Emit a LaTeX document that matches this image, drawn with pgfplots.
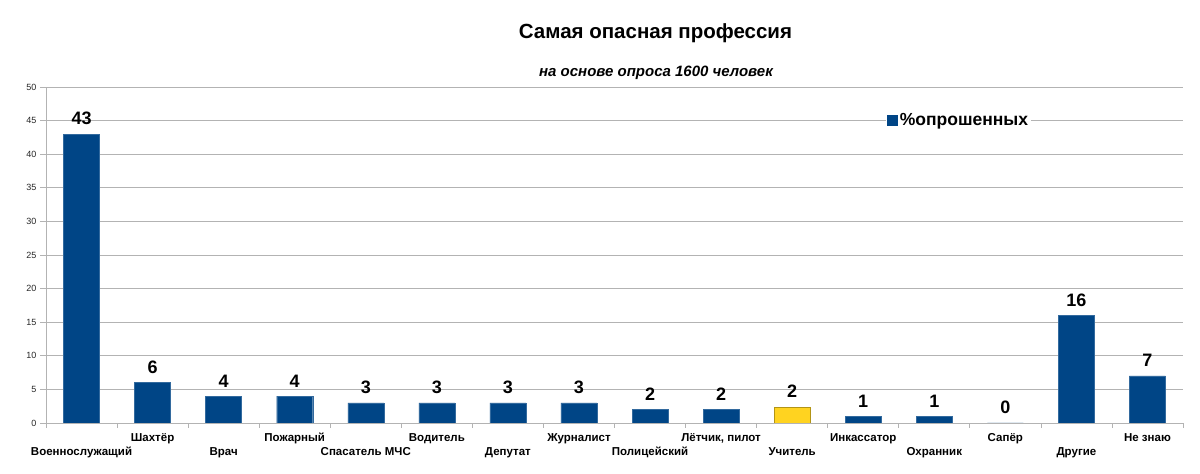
\documentclass[border=0pt]{standalone}
\usepackage{pgfplots}
\pgfplotsset{compat=1.18}
\usepackage{pgfplotstable}
\usepackage{fontspec}
\setmainfont{Liberation Sans}
\definecolor{loblue}{HTML}{004586}
\definecolor{loyellow}{HTML}{FFD320}
\definecolor{gridgray}{HTML}{B3B3B3}

\pgfplotstableread{
x y
0 43
1 6
2 4
3 4
4 3
5 3
6 3
7 3
8 2
9 2
11 1
12 1
13 0
14 16
15 7
}\blueseries
\pgfplotstableread{
x y
10 2.4
}\yellowseries

\begin{document}
\begin{tikzpicture}[x=1pt,y=1pt]
\useasboundingbox (0,0) rectangle (1200,474);
\node[font=\fontsize{20.5}{22}\selectfont\bfseries] at (655.5,440.5) {Самая опасная профессия};
\node[font=\fontsize{15}{17}\selectfont\bfseries\itshape] at (656,401.5) {на основе опроса 1600 человек};
\begin{axis}[
  at={(46pt,51pt)}, anchor=south west,
  scale only axis, width=1137pt, height=336pt,
  xmin=-0.5, xmax=15.5, ymin=0, ymax=50,
  ybar, bar width=36pt, bar shift=0pt,
  ytick={0,5,...,50},
  ymajorgrids, grid style={gridgray, line width=0.7pt},
  axis x line*=bottom, axis y line*=left,
  axis line style={gridgray, line width=0.8pt},
  every tick/.style={gridgray, line width=0.7pt},
  tick align=outside,
  major tick length=6pt,
  minor tick length=5pt,
  xtick={0,...,15},
  major x tick style={draw=none},
  minor xtick={-0.5,0.5,...,15.5},
  xticklabels={
    {\strut\\Военнослужащий},{\strut Шахтёр\\\strut},
    {\strut\\Врач},{\strut Пожарный\\\strut},
    {\strut\\Спасатель МЧС},{\strut Водитель\\\strut},
    {\strut\\Депутат},{\strut Журналист\\\strut},
    {\strut\\Полицейский},{\strut Лётчик, пилот\\\strut},
    {\strut\\Учитель},{\strut Инкассатор\\\strut},
    {\strut\\Охранник},{\strut Сапёр\\\strut},
    {\strut\\Другие},{\strut Не знаю\\\strut}},
  xticklabel style={align=center, anchor=north, font=\fontsize{11.5}{14}\selectfont\bfseries, yshift=0.7pt},
  yticklabel style={font=\fontsize{9}{10}\selectfont, text=black!85},
  /pgf/number format/assume math mode=true,
  point meta=y,
  nodes near coords={\pgfmathprintnumber[fixed,precision=0,assume math mode=true]{\pgfplotspointmeta}},
  nodes near coords style={font=\fontsize{18}{20}\selectfont\bfseries, anchor=south, yshift=5.5pt, text=black},
  legend style={at={(0.739,0.90)}, anchor=west, draw=none, fill=white,
    font=\fontsize{17.5}{19}\selectfont\bfseries, inner sep=1pt,
    legend cell align=left},
]
\addplot[fill=loblue, draw=loblue!80!white,
  legend image code/.code={\fill[loblue] (0pt,-5pt) rectangle (10pt,5pt);}]
  table[x=x,y=y] {\blueseries};
\addlegendentry{\%опрошенных}
\addplot[fill=loyellow, draw=loyellow!70!black, forget plot]
  table[x=x,y=y] {\yellowseries};
\end{axis}
\end{tikzpicture}
\end{document}
